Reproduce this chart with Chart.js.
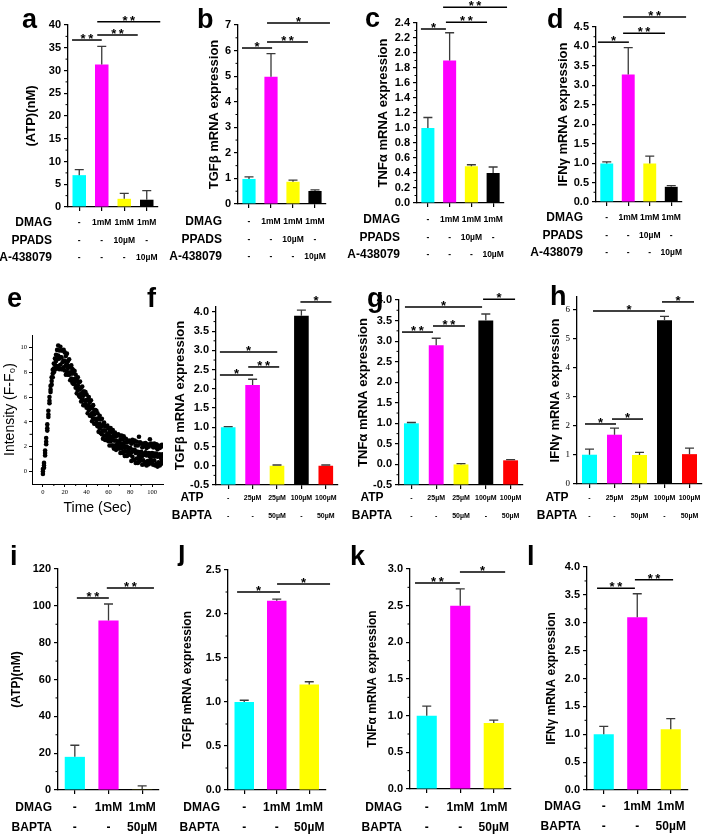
<!DOCTYPE html>
<html>
<head>
<meta charset="utf-8">
<script src="https://cdn.jsdelivr.net/npm/chart.js@4.4.1/dist/chart.umd.min.js"></script>
<style>
html, body { margin: 0; background: #fff; }
#fig { position: relative; width: 708px; height: 836px; overflow: hidden; }
#fig canvas { position: absolute; }
</style>
</head>
<body>
<div id="fig"></div>
<script>
// 1) Data
const CYAN = '#00ffff', MAGENTA = '#ff00ff', YELLOW = '#ffff00', BLACK = '#000000', RED = '#ff0000';
const colorsTop = [CYAN, MAGENTA, YELLOW, BLACK];
const colorsMid = [CYAN, MAGENTA, YELLOW, BLACK, RED];
const colorsBot = [CYAN, MAGENTA, YELLOW];

const dmagTop = ['-', '1mM', '1mM', '1mM'];
const ppadsTop = ['-', '-', '10µM', '-'];
const a438Top = ['-', '-', '-', '10µM'];
const atpMid = ['-', '25µM', '25µM', '100µM', '100µM'];
const baptaMid = ['-', '-', '50µM', '-', '50µM'];
const dmagBot = ['-', '1mM', '1mM'];
const baptaBot = ['-', '-', '50µM'];

const atpA = [7.0, 31.3, 1.8, 1.6],      atpAErr = [1.2, 4.0, 1.2, 2.0];
const tgfB = [0.98, 4.98, 0.87, 0.51],   tgfBErr = [0.08, 0.9, 0.06, 0.04];
const tnfC = [1.0, 1.9, 0.49, 0.4],      tnfCErr = [0.14, 0.37, 0.02, 0.08];
const ifnD = [0.99, 3.28, 0.99, 0.39],   ifnDErr = [0.04, 0.69, 0.19, 0.03];
const tgfF = [1.0, 2.1, 0.0, 3.9, 0.0],  tgfFErr = [0.02, 0.15, 0.02, 0.15, 0.02];
const tnfG = [1.0, 2.9, 0.0, 3.5, 0.1],  tnfGErr = [0.02, 0.17, 0.02, 0.16, 0.015];
const ifnH = [1.01, 1.7, 1.0, 5.65, 1.03], ifnHErr = [0.19, 0.23, 0.09, 0.13, 0.21];
const atpI = [18, 92, 0.4],              atpIErr = [6.3, 9, 1.8];
const tgfJ = [1.0, 2.15, 1.2],           tgfJErr = [0.02, 0.02, 0.03];
const tnfK = [1.0, 2.5, 0.9],            tnfKErr = [0.13, 0.23, 0.04];
const ifnL = [1.0, 3.1, 1.09],           ifnLErr = [0.14, 0.42, 0.19];

// significance brackets: [from group, to group, height, stars]
const sigA = [[-0.32, 1.0, 36.7, '**'], [0.8, 2.6, 37.8, '**'], [0.8, 3.6, 40.7, '**']];
const sigB = [[-0.32, 1.05, 6.1, '*'], [0.82, 2.68, 6.34, '**'], [0.82, 3.68, 7.08, '*']];
const sigC = [[-0.32, 0.83, 2.32, '*'], [0.83, 2.72, 2.41, '**'], [0.7, 3.64, 2.61, '**']];
const sigD = [[-0.41, 1.03, 4.11, '*'], [0.76, 2.71, 4.34, '**'], [0.76, 3.69, 4.76, '**']];
const sigF = [[-0.34, 2.01, 2.96, '*'], [-0.34, 1.02, 2.36, '*'], [0.82, 2.09, 2.57, '**'], [2.96, 4.23, 4.26, '*']];
const sigG = [[-0.26, 2.85, 3.83, '*'], [2.89, 4.18, 4.02, '*'], [-0.38, 0.87, 3.22, '**'], [0.87, 2.16, 3.37, '**']];
const sigH = [[0.14, 3.02, 5.97, '*'], [2.9, 4.18, 6.28, '*'], [-0.18, 1.06, 2.07, '*'], [0.9, 2.14, 2.24, '*']];
const sigI = [[0.06, 1.01, 104.2, '**'], [0.95, 2.35, 109.7, '**']];
const sigJ = [[-0.22, 1.1, 2.25, '*'], [1.01, 2.64, 2.34, '*']];
const sigK = [[-0.35, 0.99, 2.81, '**'], [0.99, 2.34, 2.96, '*']];
const sigL = [[-0.2, 0.93, 3.62, '**'], [0.93, 2.07, 3.77, '**']];

// calcium trace (panel e), one reading per second: low / middle / high of the dot band
const eXTicks = [0, 20, 40, 60, 80, 100];
const eYTicks = [0, 2, 4, 6, 8, 10];
const eTime = [
  0, 1, 2, 3, 4, 5, 6, 7, 8, 9, 10, 11, 12, 13, 14, 15, 16, 17, 18, 19,
  20, 21, 22, 23, 24, 25, 26, 27, 28, 29, 30, 31, 32, 33, 34, 35, 36, 37, 38, 39,
  40, 41, 42, 43, 44, 45, 46, 47, 48, 49, 50, 51, 52, 53, 54, 55, 56, 57, 58, 59,
  60, 61, 62, 63, 64, 65, 66, 67, 68, 69, 70, 71, 72, 73, 74, 75, 76, 77, 78, 79,
  80, 81, 82, 83, 84, 85, 86, 87, 88, 89, 90, 91, 92, 93, 94, 95, 96, 97, 98, 99,
  100, 101, 102, 103, 104, 105, 106, 107, 108, 109, 110];
const eLow = [
  -0.2, 0.3, 1.3, 2.2, 3.3, 4.4, 5.5, 6.4, 7.0, 7.6, 8.0, 8.2, 8.4, 8.3, 8.5, 8.25, 8.6, 8.25, 8.25, 8.4,
  8.15, 7.8, 8.05, 7.8, 7.8, 7.35, 7.5, 7.15, 7.05, 7.1, 6.75, 6.3, 6.55, 6.1, 6.0, 5.65, 5.8, 5.35, 5.35, 5.4,
  5.15, 4.7, 4.95, 4.5, 4.5, 4.05, 4.3, 3.85, 3.85, 3.9, 3.65, 3.2, 3.45, 3.1, 3.0, 2.65, 2.9, 2.55, 2.55, 2.7,
  2.45, 2.1, 2.45, 2.1, 2.1, 1.85, 2.1, 1.75, 1.85, 2.0, 1.85, 1.5, 1.85, 1.5, 1.6, 1.25, 1.6, 1.25, 1.35, 1.5,
  1.35, 0.85, 1.2, 0.95, 0.95, 0.7, 1.05, 0.7, 0.8, 1.05, 0.9, 0.55, 0.9, 0.6, 0.75, 0.5, 0.85, 0.6, 0.7, 0.95,
  0.8, 0.55, 0.9, 0.5, 0.65, 0.4, 0.75, 0.5, 0.6, 0.85, 0.7];
const eMid = [
  0.0, 0.5, 1.5, 2.4, 3.5, 4.6, 5.7, 6.6, 7.3, 7.9, 8.3, 8.6, 8.9, 9.05, 9.35, 9.1, 9.2, 9.2, 8.8, 8.95,
  8.9, 8.55, 8.65, 8.35, 8.45, 8.0, 7.9, 7.9, 7.4, 7.45, 7.3, 6.85, 6.95, 6.65, 6.65, 6.3, 6.2, 6.1, 5.7, 5.75,
  5.7, 5.25, 5.35, 5.05, 5.15, 4.7, 4.7, 4.6, 4.2, 4.25, 4.2, 3.75, 3.85, 3.65, 3.65, 3.3, 3.3, 3.3, 2.9, 3.05,
  3.0, 2.65, 2.85, 2.65, 2.75, 2.5, 2.5, 2.5, 2.2, 2.35, 2.4, 2.05, 2.25, 2.05, 2.25, 1.9, 2.0, 2.0, 1.7, 1.85,
  1.9, 1.55, 1.75, 1.65, 1.75, 1.5, 1.6, 1.6, 1.3, 1.55, 1.6, 1.25, 1.45, 1.35, 1.55, 1.3, 1.4, 1.5, 1.2, 1.45,
  1.5, 1.25, 1.45, 1.25, 1.45, 1.2, 1.3, 1.4, 1.1, 1.35, 1.4];
const eHigh = [
  0.2, 0.7, 1.7, 2.7, 3.8, 4.9, 6.0, 6.9, 7.6, 8.2, 8.7, 9.1, 9.4, 9.8, 10.15, 9.75, 10.05, 9.75, 9.75, 9.8,
  9.6, 9.3, 9.5, 8.9, 9.05, 8.45, 8.55, 8.25, 8.15, 8.1, 7.8, 7.4, 7.6, 7.2, 7.25, 6.75, 6.85, 6.45, 6.45, 6.4,
  6.2, 5.8, 6.0, 5.6, 5.75, 5.15, 5.35, 4.95, 4.95, 4.9, 4.7, 4.3, 4.5, 4.2, 4.25, 3.75, 3.95, 3.65, 3.65, 3.7,
  3.5, 3.2, 3.5, 3.2, 3.35, 2.95, 3.15, 2.85, 2.95, 3.0, 2.9, 2.6, 2.9, 2.6, 2.85, 2.35, 2.65, 2.35, 2.45, 2.5,
  2.4, 2.25, 2.55, 2.35, 2.5, 2.1, 2.4, 2.1, 2.8, 2.35, 2.25, 1.95, 2.25, 2.05, 2.3, 1.9, 2.2, 2.0, 2.6, 2.25,
  2.15, 1.95, 2.25, 1.95, 2.2, 1.8, 2.1, 1.9, 2.0, 2.15, 2.05];

// 2) Layout (page pixels): box = canvas [left, top, w, h], area = [axis x, axis end x, top y, bottom y]
const SANS = '"Liberation Sans", Arial, Helvetica, sans-serif';
const SERIF = '"Liberation Serif", "Times New Roman", serif';

const panels = [
  { letter: ['a', 22, 28], box: [0, 0, 165, 268], area: [68, 158, 25, 207], tc: 31, tSize: 13,
    title: '(ATP)(nM)', max: 40, step: 5, dec: 0, values: atpA, errors: atpAErr, colors: colorsTop,
    rows: [dmagTop, ppadsTop, a438Top], rowNames: ['DMAG', 'PPADS', 'A-438079'],
    rowX: 52, rowAlign: 'right', firstRow: 223, rowGap: 17.5, xFont: 8.5, sig: sigA, minor: true },
  { letter: ['b', 197, 28], box: [163, 0, 177, 268], area: [238, 326, 25, 204], tc: 214, tSize: 13,
    title: 'TGFβ mRNA expression', max: 7, step: 1, dec: 0, values: tgfB, errors: tgfBErr, colors: colorsTop,
    rows: [dmagTop, ppadsTop, a438Top], rowNames: ['DMAG', 'PPADS', 'A-438079'],
    rowX: 222, rowAlign: 'right', firstRow: 222, rowGap: 17.5, xFont: 8.5, sig: sigB, minor: true },
  { letter: ['c', 365, 27], box: [342, 0, 175, 268], area: [417, 504, 23, 203], tc: 383, tSize: 13,
    title: 'TNFα mRNA expression', max: 2.4, step: 0.2, dec: 1, values: tnfC, errors: tnfCErr, colors: colorsTop,
    rows: [dmagTop, ppadsTop, a438Top], rowNames: ['DMAG', 'PPADS', 'A-438079'],
    rowX: 400, rowAlign: 'right', firstRow: 220, rowGap: 17.5, xFont: 8.5, sig: sigC, minor: true },
  { letter: ['d', 547, 28], box: [520, 0, 188, 268], area: [596, 682, 27, 202], tc: 563, tSize: 13,
    title: 'IFNγ mRNA expression', max: 4.5, step: 0.5, dec: 1, values: ifnD, errors: ifnDErr, colors: colorsTop,
    rows: [dmagTop, ppadsTop, a438Top], rowNames: ['DMAG', 'PPADS', 'A-438079'],
    rowX: 583, rowAlign: 'right', firstRow: 218, rowGap: 17.5, xFont: 8.5, sig: sigD, minor: true },
  { letter: ['f', 147, 307], box: [140, 282, 210, 245], area: [216, 338, 306.2, 485], tc: 180, tSize: 13,
    title: 'TGFβ mRNA expression', min: -0.5, max: 4.15, step: 0.5, dec: 1, values: tgfF, errors: tgfFErr, colors: colorsMid,
    rows: [atpMid, baptaMid], rowNames: ['ATP', 'BAPTA'],
    rowX: 192, rowAlign: 'center', firstRow: 498, rowGap: 18, xFont: 7, sig: sigF, minor: true },
  { letter: ['g', 367, 307], box: [345, 282, 183, 245], area: [399, 523, 300, 485], tc: 363, tSize: 13,
    title: 'TNFα mRNA expression', min: -0.5, max: 4.0, step: 0.5, dec: 1, values: tnfG, errors: tnfGErr, colors: colorsMid,
    rows: [atpMid, baptaMid], rowNames: ['ATP', 'BAPTA'],
    rowX: 372, rowAlign: 'center', firstRow: 498, rowGap: 18, xFont: 7, sig: sigG, minor: true },
  { letter: ['h', 550, 305], box: [528, 282, 180, 245], area: [577, 702, 297, 484], tc: 555, tSize: 13,
    title: 'IFNγ mRNA expression', max: 6.45, step: 1, dec: 0, values: ifnH, errors: ifnHErr, colors: colorsMid,
    rows: [atpMid, baptaMid], rowNames: ['ATP', 'BAPTA'], yFont: { family: SERIF, size: 9 },
    rowX: 557, rowAlign: 'center', firstRow: 498, rowGap: 18, xFont: 7, sig: sigH, minor: false },
  { letter: ['i', 10, 565], box: [0, 545, 172, 291], area: [58, 159, 569, 790], tc: 17, tSize: 12,
    title: '(ATP)(nM)', max: 120, step: 20, dec: 0, values: atpI, errors: atpIErr, colors: colorsBot,
    rows: [dmagBot, baptaBot], rowNames: ['DMAG', 'BAPTA'],
    rowX: 52, rowAlign: 'right', firstRow: 808, rowGap: 20, xFont: 12, sig: sigI, minor: true },
  { letter: ['j', 178, 560], box: [172, 545, 170, 291], area: [228, 325.5, 570, 790], tc: 188, tSize: 12,
    title: 'TGFβ mRNA expression', max: 2.5, step: 0.5, dec: 1, values: tgfJ, errors: tgfJErr, colors: colorsBot,
    rows: [dmagBot, baptaBot], rowNames: ['DMAG', 'BAPTA'],
    rowX: 220, rowAlign: 'right', firstRow: 808, rowGap: 20, xFont: 12, sig: sigJ, minor: true },
  { letter: ['k', 350, 565], box: [345, 545, 175, 291], area: [410, 510.5, 569, 789], tc: 373, tSize: 12,
    title: 'TNFα mRNA expression', max: 3, step: 0.5, dec: 1, values: tnfK, errors: tnfKErr, colors: colorsBot,
    rows: [dmagBot, baptaBot], rowNames: ['DMAG', 'BAPTA'],
    rowX: 402, rowAlign: 'right', firstRow: 808, rowGap: 20, xFont: 12, sig: sigK, minor: true },
  { letter: ['l', 527, 565], box: [522, 545, 186, 291], area: [587, 687.5, 567, 790], tc: 552, tSize: 12,
    title: 'IFNγ mRNA expression', max: 4, step: 0.5, dec: 1, values: ifnL, errors: ifnLErr, colors: colorsBot,
    rows: [dmagBot, baptaBot], rowNames: ['DMAG', 'BAPTA'],
    rowX: 581, rowAlign: 'right', firstRow: 807, rowGap: 20, xFont: 12, sig: sigL, minor: true }
];

const scatterPanel = { letter: ['e', 7, 307], box: [0, 282, 170, 235], area: [32, 163, 335, 484], tc: 10, tSize: 14 };

// 3) Helpers
function addCanvas(box) {
  const c = document.createElement('canvas');
  c.width = box[2]; c.height = box[3];
  c.style.left = box[0] + 'px'; c.style.top = box[1] + 'px';
  c.style.width = box[2] + 'px'; c.style.height = box[3] + 'px';
  document.getElementById('fig').appendChild(c);
  return c;
}

function decor(p) {
  return {
    id: 'decor',
    afterDatasetsDraw(chart) {
      if (!p.errors) return;
      const ctx = chart.ctx, y = chart.scales.y;
      ctx.save();
      ctx.strokeStyle = '#3a3a3a';
      ctx.lineWidth = 1.3;
      chart.getDatasetMeta(0).data.forEach((bar, i) => {
        const top = y.getPixelForValue(p.values[i]);
        const end = y.getPixelForValue(p.values[i] + p.errors[i]);
        ctx.beginPath();
        ctx.moveTo(bar.x, top); ctx.lineTo(bar.x, end);
        ctx.moveTo(bar.x - 4.5, end); ctx.lineTo(bar.x + 4.5, end);
        ctx.stroke();
      });
      ctx.restore();
    },
    afterDraw(chart) {
      const ctx = chart.ctx, x = chart.scales.x, y = chart.scales.y;
      const ca = chart.chartArea;
      const ox = p.box[0], oy = p.box[1];
      ctx.save();
      ctx.strokeStyle = '#000';
      ctx.fillStyle = '#000';
      ctx.lineWidth = 1;
      // minor ticks
      ctx.beginPath();
      if (p.minor) {
        const t = y.ticks;
        for (let k = 0; k < t.length - 1; k++) {
          const m = y.getPixelForValue((t[k].value + t[k + 1].value) / 2);
          ctx.moveTo(ca.left, m); ctx.lineTo(ca.left - 2.5, m);
        }
      }
      if (p.minorX) {
        const t = x.ticks;
        for (let k = 0; k < t.length - 1; k++) {
          const m = x.getPixelForValue((t[k].value + t[k + 1].value) / 2);
          ctx.moveTo(m, ca.bottom); ctx.lineTo(m, ca.bottom + 2);
        }
      }
      ctx.stroke();
      // significance brackets
      ctx.lineWidth = 1.5;
      ctx.textAlign = 'center';
      ctx.textBaseline = 'alphabetic';
      ctx.font = 'bold 13px ' + SANS;
      (p.sig || []).forEach(([i0, i1, v, stars]) => {
        const x0 = x.getPixelForValue(i0), x1 = x.getPixelForValue(i1), py = y.getPixelForValue(v);
        ctx.beginPath();
        ctx.moveTo(x0, py); ctx.lineTo(x1, py);
        ctx.stroke();
        ctx.fillText(stars.split('').join('\u2009'), (x0 + x1) / 2, py + 3);
      });
      // treatment row names
      if (p.rowNames) {
        ctx.font = 'bold 12px ' + SANS;
        ctx.textAlign = p.rowAlign;
        ctx.textBaseline = 'middle';
        p.rowNames.forEach((name, k) => {
          ctx.fillText(name, p.rowX - ox, p.firstRow + k * p.rowGap - oy);
        });
      }
      // panel letter
      ctx.font = 'bold 27px ' + SANS;
      ctx.textAlign = 'left';
      ctx.textBaseline = 'alphabetic';
      ctx.fillText(p.letter[0], p.letter[1] - ox, p.letter[2] - oy);
      ctx.restore();
    }
  };
}

function frame(p) {
  const lh = p.tSize * 1.2;
  const axisLeft = p.tc - lh / 2;
  return {
    yW: p.area[0] - axisLeft,
    padLeft: axisLeft - p.box[0],
    padTop: p.area[2] - p.box[1],
    padRight: p.box[0] + p.box[2] - p.area[1],
    xH: p.box[1] + p.box[3] - p.area[3]
  };
}

// 4) Bar panels
function barPanel(p) {
  const f = frame(p);
  const labels = p.values.map((_, i) => p.rows.map(r => r[i]));
  const min = p.min !== undefined ? p.min : 0;
  new Chart(addCanvas(p.box), {
    type: 'bar',
    data: {
      labels: labels,
      datasets: [{
        data: p.values,
        backgroundColor: p.colors,
        base: min,
        barPercentage: 0.6,
        categoryPercentage: 1
      }]
    },
    options: {
      responsive: false,
      animation: false,
      layout: { padding: { left: f.padLeft, top: f.padTop, right: f.padRight, bottom: 0 } },
      plugins: { legend: { display: false }, tooltip: { enabled: false } },
      scales: {
        x: {
          grid: { display: true, drawOnChartArea: false, offset: false, tickLength: 4, color: '#000', lineWidth: 1.2 },
          border: { color: '#000', width: 1.3 },
          ticks: {
            color: '#000', autoSkip: false, maxRotation: 0,
            padding: p.firstRow - p.area[3] - 4 - p.rowGap / 2,
            font: { family: SANS, size: p.xFont, weight: 'bold', lineHeight: p.rowGap + 'px' }
          },
          afterFit: s => { s.height = f.xH; }
        },
        y: {
          min: min, max: p.max,
          grid: { display: true, drawOnChartArea: false, tickLength: 4, color: '#000', lineWidth: 1.2 },
          border: { color: '#000', width: 1.3 },
          ticks: {
            stepSize: p.step, includeBounds: false, autoSkip: false, color: '#000', padding: 3,
            font: p.yFont || { family: SANS, size: 11, weight: 'bold' },
            callback: v => Number(v).toFixed(p.dec)
          },
          title: { display: true, text: p.title, color: '#000', padding: 0,
                   font: { family: SANS, size: p.tSize, weight: 'bold' } },
          afterFit: s => { s.width = f.yW; }
        }
      }
    },
    plugins: [decor(p)]
  });
}

panels.forEach(barPanel);

// 5) Scatter panel e
(function () {
  const p = scatterPanel;
  const f = frame(p);
  const lh = p.tSize * 1.2;
  const xTitleY = 508;
  const xH = xTitleY + lh / 2 - p.area[3];
  const dot = arr => ({
    data: eTime.map((t, i) => ({ x: t, y: arr[i] })),
    backgroundColor: '#000', borderWidth: 0, pointRadius: 2.3, pointHoverRadius: 2.3
  });
  p.minorX = true;
  p.minor = true;
  new Chart(addCanvas(p.box), {
    type: 'scatter',
    data: { datasets: [dot(eLow), dot(eMid), dot(eHigh)] },
    options: {
      responsive: false,
      animation: false,
      layout: { padding: { left: f.padLeft, top: f.padTop, right: f.padRight, bottom: p.box[1] + p.box[3] - (p.area[3] + xH) } },
      plugins: { legend: { display: false }, tooltip: { enabled: false } },
      scales: {
        x: {
          type: 'linear', min: -10, max: 110,
          grid: { display: true, drawOnChartArea: false, tickLength: 3, color: '#000', lineWidth: 1 },
          border: { color: '#000', width: 1 },
          ticks: { color: '#000', padding: 1, font: { family: SERIF, size: 6.5 } },
          afterBuildTicks: s => { s.ticks = eXTicks.map(v => ({ value: v })); },
          title: { display: true, text: 'Time (Sec)', color: '#000', padding: 0, font: { family: SANS, size: p.tSize } },
          afterFit: s => { s.height = xH; }
        },
        y: {
          min: -1, max: 11,
          grid: { display: true, drawOnChartArea: false, tickLength: 3, color: '#000', lineWidth: 1 },
          border: { color: '#000', width: 1 },
          ticks: { color: '#000', padding: 2, font: { family: SERIF, size: 6.5 } },
          afterBuildTicks: s => { s.ticks = eYTicks.map(v => ({ value: v })); },
          title: { display: true, text: 'Intensity (F-F₀)', color: '#000', padding: 0, font: { family: SANS, size: p.tSize } },
          afterFit: s => { s.width = f.yW; }
        }
      }
    },
    plugins: [decor(p)]
  });
})();
</script>
</body>
</html>
